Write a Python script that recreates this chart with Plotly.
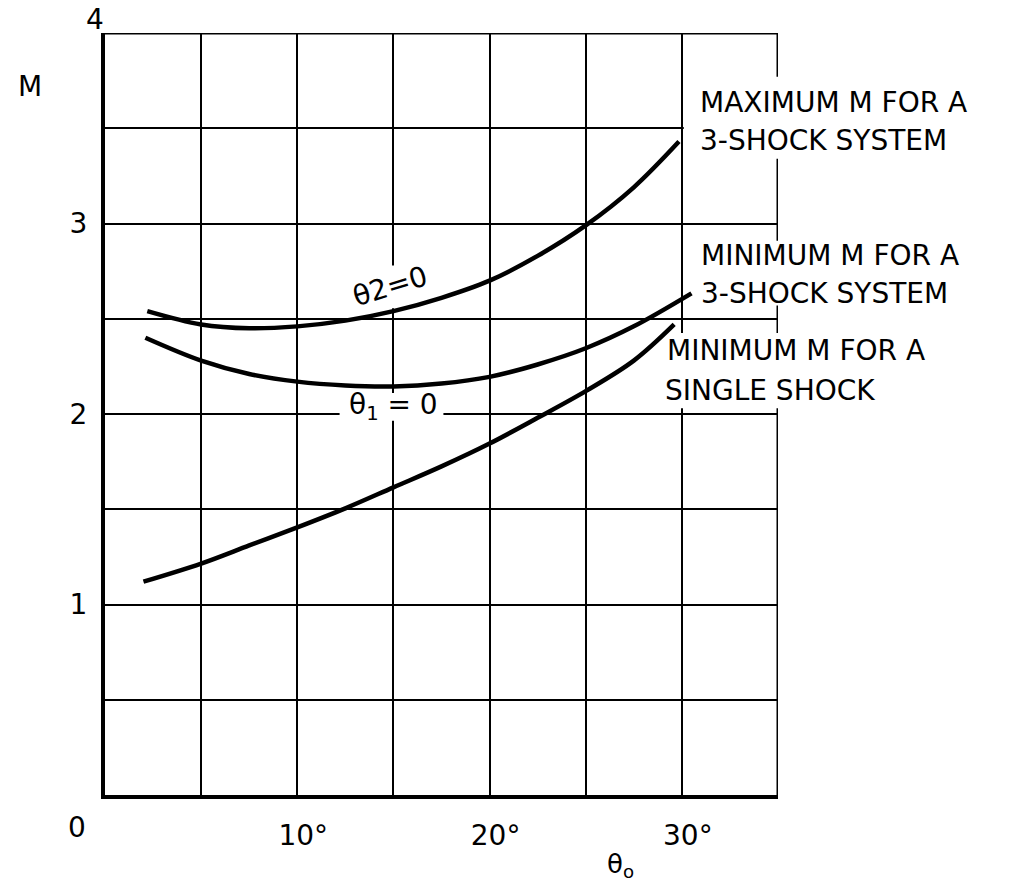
import plotly.graph_objects as go

# Deflection angle θo (degrees) and Mach number M for each boundary curve
theta_max = [2.2, 5, 7.5, 10, 12.5, 15, 17.5, 20, 22.5, 25, 27.5, 29.85]
m_max = [2.54, 2.47, 2.45, 2.46, 2.49, 2.54, 2.61, 2.70, 2.83, 2.99, 3.19, 3.43]

theta_min3 = [2.1, 5, 7.5, 10, 12.5, 15, 17.5, 20, 22.5, 25, 27.5, 30.5]
m_min3 = [2.40, 2.28, 2.21, 2.17, 2.15, 2.145, 2.16, 2.195, 2.26, 2.345, 2.46, 2.633]

theta_single = [2.0, 5, 7.5, 10, 12.5, 15, 17.5, 20, 22.5, 25, 27.5, 29.6]
m_single = [1.12, 1.215, 1.31, 1.405, 1.505, 1.615, 1.725, 1.845, 1.98, 2.12, 2.28, 2.47]

x_tick_vals = [10, 20, 30]
x_tick_text = ["10°", "20°", "30°"]
y_tick_vals = [1, 2, 3]
y_tick_text = ["1", "2", "3"]

FONT = "DejaVu Sans"
INK = "black"
SIZE = 28

fig = go.Figure()

for xs, ys in [(theta_max, m_max), (theta_min3, m_min3), (theta_single, m_single)]:
    fig.add_trace(go.Scatter(
        x=xs, y=ys, mode="lines",
        line=dict(color=INK, width=4.5, shape="spline", smoothing=1.0),
        showlegend=False, hoverinfo="skip",
    ))

# Frame on the top and right, then white patches behind the lettering
shapes = [
    dict(type="line", xref="x", yref="y", x0=0, x1=35, y0=4, y1=4,
         line=dict(color=INK, width=3), layer="between"),
    dict(type="line", xref="x", yref="y", x0=35, x1=35, y0=0, y1=4,
         line=dict(color=INK, width=3), layer="between"),
]
masks = [
    (30.1, 36.5, 3.34, 3.77),
    (30.7, 36.5, 2.57, 2.91),
    (28.95, 36.5, 2.03, 2.425),
    (12.5, 17.2, 2.555, 2.78),
    (12.2, 17.6, 1.965, 2.11),
]
for x0, x1, y0, y1 in masks:
    shapes.append(dict(type="rect", xref="x", yref="y", x0=x0, x1=x1, y0=y0, y1=y1,
                       fillcolor="white", line=dict(width=0), layer="between"))

ann = []


def text(x, y, s, xanchor="left", size=SIZE, angle=0, xshift=0, yshift=0):
    ann.append(dict(x=x, y=y, xref="x", yref="y", text=s, showarrow=False,
                    xanchor=xanchor, yanchor="middle", textangle=angle,
                    xshift=xshift, yshift=yshift,
                    font=dict(family=FONT, size=size, color=INK)))


text(30.85, 3.633, "MAXIMUM M FOR A")
text(30.85, 3.434, "3-SHOCK SYSTEM")
text(30.9, 2.831, "MINIMUM M FOR A")
text(30.9, 2.632, "3-SHOCK SYSTEM")
text(29.1, 2.333, "MINIMUM M FOR A")
text(29.0, 2.123, "SINGLE SHOCK")
text(14.8, 2.67, "θ2=0", xanchor="center", angle=-17)
text(15.0, 2.04, "θ<sub>1</sub> = 0", xanchor="center")

text(0, 4, "4", xanchor="center", xshift=-10, yshift=14)
text(0, 0, "0", xanchor="center", xshift=-28, yshift=-32)
text(0, 3.72, "M", xanchor="center", xshift=-75)
text(26.8, 0, "θ<sub>o</sub>", xanchor="center", yshift=-70, size=26)

fig.update_layout(
    width=1012, height=885,
    margin=dict(l=105, r=234, t=33, b=90),
    paper_bgcolor="white", plot_bgcolor="white",
    shapes=shapes, annotations=ann,
    xaxis=dict(
        range=[0, 35], dtick=5, tick0=0,
        showgrid=True, gridcolor=INK, gridwidth=2,
        zeroline=False, showline=True, linecolor=INK, linewidth=4,
        tickmode="array", tickvals=x_tick_vals, ticktext=x_tick_text,
        ticks="", ticklabelstandoff=12, ticklabelshift=6,
        tickfont=dict(family=FONT, size=SIZE, color=INK),
        fixedrange=True,
    ),
    yaxis=dict(
        range=[0, 4],
        showgrid=True, gridcolor=INK, gridwidth=2,
        zeroline=False, showline=True, linecolor=INK, linewidth=4,
        tickmode="array", tickvals=y_tick_vals, ticktext=y_tick_text,
        ticks="", ticklabelstandoff=8,
        tickfont=dict(family=FONT, size=SIZE, color=INK),
        fixedrange=True,
    ),
)

# Gridlines every 5° and every 0.5 in M (tick labels only on a subset)
fig.update_xaxes(minor=dict(dtick=5, tick0=0, showgrid=True, gridcolor=INK, gridwidth=2))
fig.update_yaxes(minor=dict(dtick=0.5, tick0=0, showgrid=True, gridcolor=INK, gridwidth=2))

fig.write_html("out.html")
